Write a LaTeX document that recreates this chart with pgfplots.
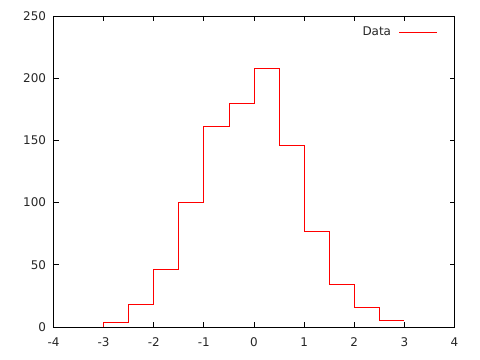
\documentclass[border=0pt]{standalone}
\usepackage{pgfplots}
\pgfplotsset{compat=1.18}
\usepackage{fontspec}
\setmainfont{DejaVu Sans}
\begin{document}
\begin{tikzpicture}
\path[use as bounding box] (0,0) rectangle (480bp,360bp);
\begin{axis}[
  at={(53.5bp,33bp)}, anchor=south west,
  scale only axis, width=401bp, height=311bp,
  xmin=-4, xmax=4, ymin=0, ymax=250,
  xtick={-4,-3,...,4}, ytick={0,50,...,250},
  tick align=inside, major tick length=5bp,
  axis line style={black, line width=0.8pt},
  every tick/.style={black, line width=0.8pt},
  tick label style={font=\fontsize{12}{14}\selectfont, text=black!85},
  /pgf/number format/assume math mode=true,
  xticklabel style={yshift=-7bp},
  yticklabel style={xshift=-4bp},
  legend style={draw=none, fill=none, inner sep=0pt, at={(0.959,0.972)}, anchor=north east, font=\fontsize{12}{14}\selectfont, text=black!85,
    /tikz/every odd column/.append style={column sep=6bp}},
  legend plot pos=right,
  legend image code/.code={\draw[#1] (0bp,0bp) -- (38bp,0bp);},
  clip=false,
]
\addplot[const plot, red, line width=0.8pt] coordinates {
(-3,0) (-3,4) (-2.5,18) (-2,46) (-1.5,100) (-1,161) (-0.5,180)
(0,208) (0.5,146) (1,77) (1.5,34) (2,16) (2.5,5) (3,5)
};
\addlegendentry{Data}
\end{axis}
\end{tikzpicture}
\end{document}
